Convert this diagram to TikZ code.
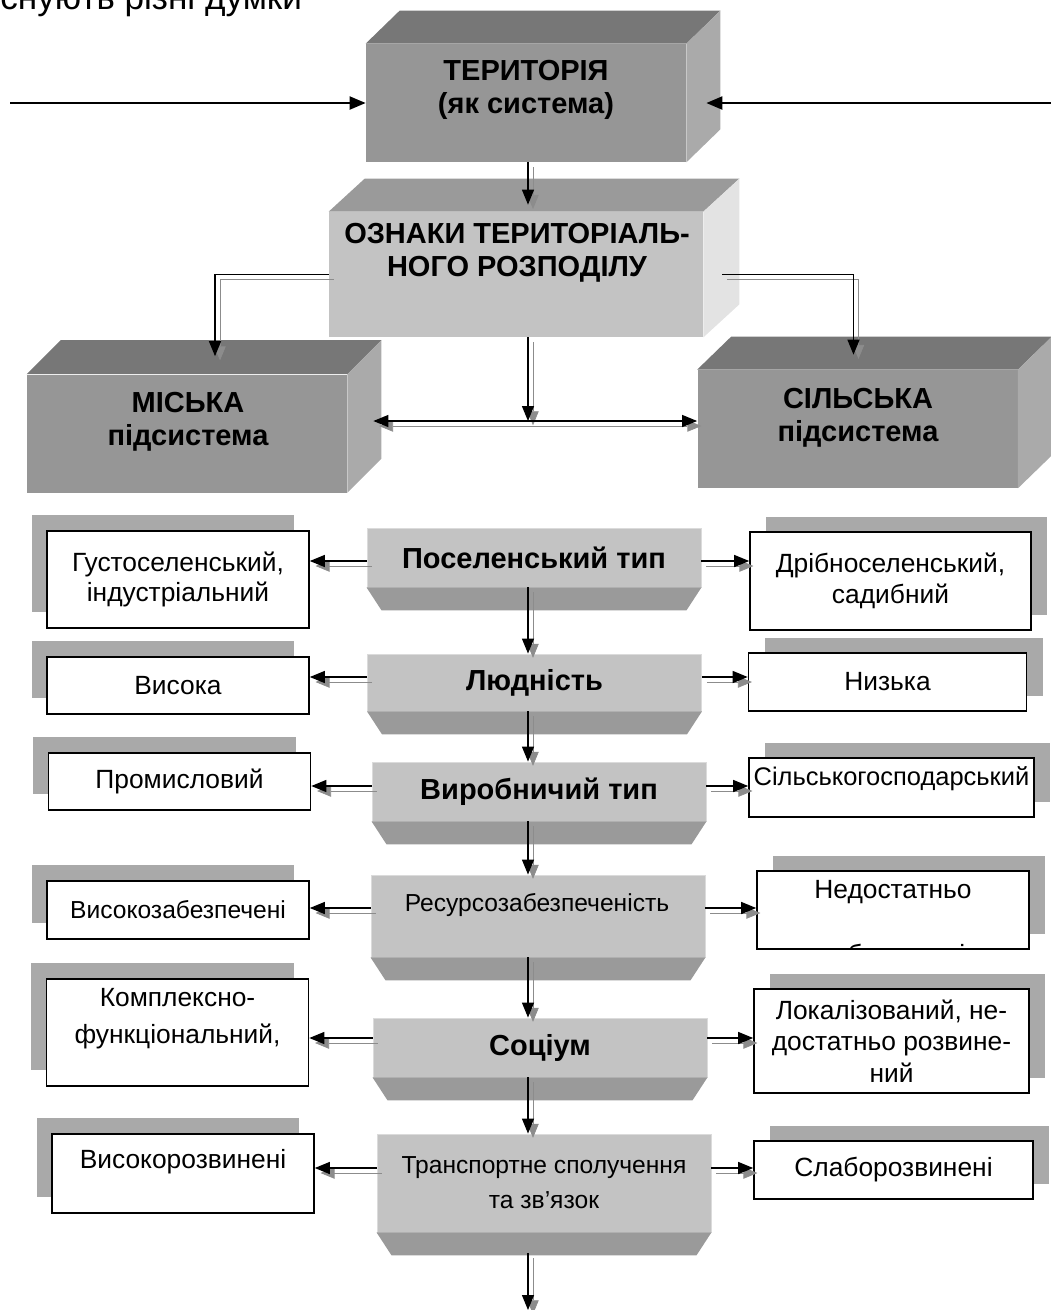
\documentclass[tikz,border=0pt]{standalone}
\usepackage{fontspec}
\setmainfont{Liberation Sans}
\usetikzlibrary{arrows.meta,shadows}

\definecolor{dkfront}{HTML}{969696}
\definecolor{dktop}{HTML}{777777}
\definecolor{dkside}{HTML}{AAAAAA}
\definecolor{ltfront}{HTML}{C3C3C3}
\definecolor{lttop}{HTML}{9A9A9A}
\definecolor{ltside}{HTML}{E3E3E3}
\definecolor{shade}{HTML}{A9A9A9}
\definecolor{linkgray}{HTML}{8C8C8C}

\tikzset{
  hdr/.style={font=\bfseries\fontsize{16.5}{18.5}\selectfont},
  txt/.style={font=\fontsize{15}{17.5}\selectfont},
  plain/.style={font=\fontsize{14}{20}\selectfont},
  cube/.style={fill=dkfront, minimum width=64mm, minimum height=23.6mm},
  slab/.style={fill=ltfront, draw=ltfront!60!white, line width=0.5pt, minimum width=66.8mm},
  lbox/.style={draw, line width=0.9pt, fill=white, minimum width=52.4mm,
    general shadow={fill=shade, shadow xshift=-3mm, shadow yshift=3.2mm}},
  rbox/.style={draw, line width=0.9pt, fill=white, minimum width=55.6mm,
    general shadow={fill=shade, shadow xshift=3.2mm, shadow yshift=3mm}},
  link/.style={line width=0.7pt, -{Triangle[length=3mm,width=2.4mm]},
    preaction={draw=linkgray, transform canvas={shift={(1mm,-1mm)}}}},
  dlink/.style={link, {Triangle[length=3mm,width=2.4mm]}-{Triangle[length=3mm,width=2.4mm]}},
  feed/.style={line width=1.2pt, -{Triangle[length=3.2mm,width=2.6mm]}}
}

\begin{document}
\begin{tikzpicture}[x=0.2mm, y=-0.2mm, every node/.style={align=center, inner sep=0pt}]
    \useasboundingbox (0,0) rectangle (1051,1310);

    % line of the page text above the scheme
    \node[font=\fontsize{20}{24}\selectfont, anchor=base west] (note) at (0,9) {снують різні думки};

    % territory
    \node[cube] (ter) at (526,103) {};
    \fill[dktop] (ter.north west) -- ++(34,-33) -- ([shift={(34,-33)}]ter.north east) -- (ter.north east) -- cycle;
    \fill[dkside] (ter.north east) -- ++(34,-33) -- ([shift={(34,-33)}]ter.south east) -- (ter.south east) -- cycle;
    \node[hdr] (ter-t) at (526,90) {ТЕРИТОРІЯ\\(як система)};

    % signs of division
    \node[fill=ltfront, minimum width=74.8mm, minimum height=25mm] (ozn) at (516,274.5) {};
    \fill[lttop] (ozn.north west) -- ++(36,-33) -- ([shift={(36,-33)}]ozn.north east) -- (ozn.north east) -- cycle;
    \fill[ltside] (ozn.north east) -- ++(36,-33) -- ([shift={(36,-33)}]ozn.south east) -- (ozn.south east) -- cycle;
    \node[hdr] (ozn-t) at (517,253) {ОЗНАКИ ТЕРИТОРІАЛЬ-\\НОГО РОЗПОДІЛУ};

    % subsystems
    \node[cube] (mis) at (187,433.5) {};
    \fill[dktop] (mis.north west) -- ++(34,-34) -- ([shift={(34,-34)}]mis.north east) -- (mis.north east) -- cycle;
    \fill[dkside] (mis.north east) -- ++(34,-34) -- ([shift={(34,-34)}]mis.south east) -- (mis.south east) -- cycle;
    \node[hdr] (mis-t) at (188,422) {МІСЬКА\\підсистема};

    \node[cube] (sil) at (857.5,429) {};
    \fill[dktop] (sil.north west) -- ++(34,-33) -- ([shift={(34,-33)}]sil.north east) -- (sil.north east) -- cycle;
    \fill[dkside] (sil.north east) -- ++(34,-33) -- ([shift={(34,-33)}]sil.south east) -- (sil.south east) -- cycle;
    \node[hdr] (sil-t) at (858,418) {СІЛЬСЬКА\\підсистема};

    % middle column
    \node[slab, hdr, minimum height=11.8mm] (pos) at (534,557.5) {Поселенський тип};
    \node[slab, hdr, minimum height=11.4mm] (lyud) at (534.5,682.5) {Людність};
    \node[slab, hdr, minimum height=11.8mm] (vyr) at (539,791.5) {Виробничий тип};
    \node[slab, minimum height=16.4mm] (res) at (538,916) {};
    \node[plain] (res-t) at (537,905) {Ресурсозабезпеченість};
    \node[slab, hdr, minimum height=11.8mm] (soc) at (540,1047.5) {Соціум};
    \node[slab, plain, minimum height=19.6mm] (tra) at (544,1183) {Транспортне сполучення\\та зв’язок};
    \foreach \s in {pos,lyud,vyr,res,soc,tra}
        \fill[lttop] (\s.south west) -- (\s.south east) -- ++(-15,23) -- ([shift={(15,23)}]\s.south west) -- cycle;

    % urban side
    \node[lbox, txt, minimum height=19.4mm] (gus) at (178,579.5) {Густоселенський,\\індустріальний};
    \node[lbox, txt, minimum height=11.4mm] (vys) at (178,685.5) {Висока};
    \node[lbox, txt, minimum height=11.4mm] (pro) at (179.5,781.5) {Промисловий};
    \node[lbox, plain, minimum height=11.6mm] (vzb) at (178,910) {Високозабезпечені};
    \node[lbox, minimum height=21.4mm] (kom) at (177.5,1032.5) {};
    \node[font=\fontsize{15}{21}\selectfont] (kom-t) at (177.5,1018.5) {Комплексно-\\функціональний,};
    \node[lbox, minimum height=15.8mm] (vro) at (183,1173.5) {};
    \node[txt] (vro-t) at (183,1162) {Високорозвинені};

    % rural side
    \node[rbox, txt, minimum width=56.2mm, minimum height=19.6mm] (drb) at (890.5,581) {Дрібноселенський,\\садибний};
    \node[rbox, txt, minimum height=11.6mm] (niz) at (887.5,682) {Низька};
    \node[rbox, minimum width=57mm, minimum height=11.8mm] (sgs) at (891.5,787.5) {};
    \node[font=\fontsize{14.5}{17}\selectfont] (sgs-t) at (891.5,779) {Сільськогосподарський};
    \node[rbox, minimum width=54.4mm, minimum height=15.6mm] (ned) at (893,910) {};
    \node[txt] (ned-t) at (893,892) {Недостатньо};
    \begin{scope}
        \clip ([shift={(2,2)}]ned.north west) rectangle ([shift={(-2,-2)}]ned.south east);
        \node[txt, anchor=base] (ned-c) at (893,963) {забезпечені};
    \end{scope}
    \node[rbox, font=\fontsize{15}{18}\selectfont, minimum width=55mm, minimum height=20.8mm] (lok) at (891.5,1041) {Локалізований, не-\\достатньо розвине-\\ний};
    \node[rbox, txt, minimum width=55.8mm, minimum height=11.6mm] (sla) at (893.5,1170) {Слаборозвинені};

    % connectors
    \coordinate (spine) at (528,0);
    \coordinate (inL) at (10,103);
    \coordinate (inR) at (1051,103);
    \coordinate (terface) at ([shift={(20,0)}]ter.east);
    \coordinate (ozntop) at ([shift={(0,-7)}]ozn.north);
    \coordinate (oznface) at ([shift={(19,0)}]ozn.east);
    \coordinate (misin) at ([shift={(28,-18)}]mis.north);
    \coordinate (silin) at ([shift={(-4,-15)}]sil.north);
    \coordinate (misface) at ([shift={(26,0)}]mis.east);
    \coordinate (hub) at (528,421);
    \coordinate (trabot) at ([shift={(0,21)}]tra.south);
    \coordinate (out) at (528,1310);

    \draw[feed] (inL) -- (ter.west);
    \draw[feed] (inR) -- (terface);
    \draw[link] (ter.south -| spine) -- (ozntop -| spine);
    \draw[link] (ozn.west) -| (misin);
    \draw[link] (oznface) -| (silin);
    \draw[link] (ozn.south -| spine) -- (hub);
    \draw[dlink] (misface |- hub) -- (sil.west |- hub);

    \foreach \a/\b in {pos/lyud,lyud/vyr,vyr/res,res/soc,soc/tra}
        \draw[link] (\a.south -| spine) -- (\b.north -| spine);
    \draw[link] (trabot -| spine) -- (out);

    \foreach \c/\l/\r/\y in {pos/gus/drb/561,lyud/vys/niz/677,vyr/pro/sgs/786,res/vzb/ned/908,soc/kom/lok/1038,tra/vro/sla/1168} {
        \draw[link] (\c.west |- 0,\y) -- (\l.east |- 0,\y);
        \draw[link] (\c.east |- 0,\y) -- (\r.west |- 0,\y);
    }
\end{tikzpicture}
\end{document}
